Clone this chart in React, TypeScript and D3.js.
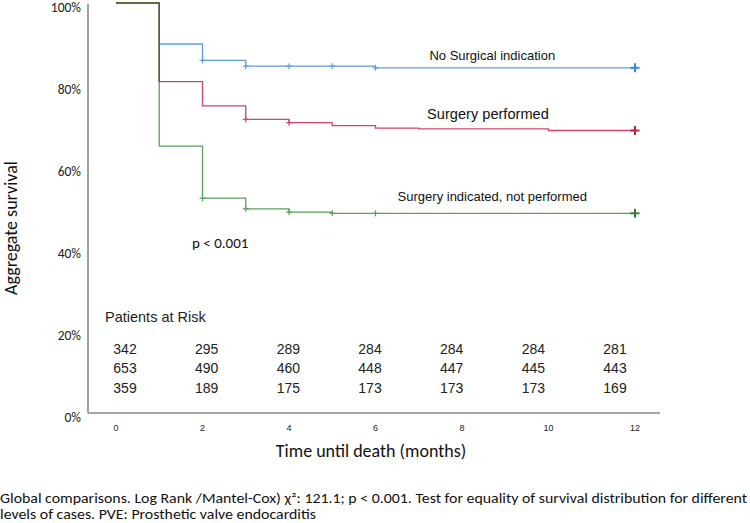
import React from "react";
import * as d3 from "d3";

// ---------- data ----------
const seriesNames = ["No Surgical indication", "Surgery performed", "Surgery indicated, not performed"];
// survival steps: [month, survival %]
const noIndicationSteps: [number, number][] = [[0, 100], [1, 90.0], [2, 86.0], [3, 84.6], [6, 84.2], [12, 84.2]];
const performedSteps: [number, number][] = [[0, 100], [1, 80.8], [2, 74.9], [3, 71.6], [4, 70.8], [5, 70.1], [6, 69.5], [7, 69.3], [10, 68.9], [12, 68.9]];
const notPerformedSteps: [number, number][] = [[0, 100], [1, 65.1], [2, 52.4], [3, 49.8], [4, 49.0], [5, 48.7], [12, 48.7]];
// censor marks (months)
const noIndicationCensor = [2, 3, 4, 5, 6, 12];
const performedCensor = [3, 4, 12];
const notPerformedCensor = [2, 3, 4, 5, 6, 12];

const xTicks = [0, 2, 4, 6, 8, 10, 12];
const yTicks = [0, 20, 40, 60, 80, 100];
const riskTimes = [0, 2, 4, 6, 8, 10, 12];
const riskNoIndication = [342, 295, 289, 284, 284, 284, 281];
const riskPerformed = [653, 490, 460, 448, 447, 445, 443];
const riskNotPerformed = [359, 189, 175, 173, 173, 173, 169];

const captionLines = [
  "Global comparisons. Log Rank /Mantel-Cox) χ²: 121.1; p < 0.001. Test for equality of survival distribution for different",
  "levels of cases. PVE: Prosthetic valve endocarditis",
];

// ---------- layout ----------
const W = 750, H = 523;
const colors = ["#5f9ddc", "#d2436a", "#57a257"];
const endColors = ["#3f83d4", "#c0203f", "#2f7f34"];
const sharedColor = "#5f5b36";
const sansCal = "Carlito, Lato, 'Open Sans', sans-serif";
const sansAr = "'Liberation Sans', Arial, sans-serif";
const captionWidths = [747, 316];

export default function App() {
  const x = d3.scaleLinear().domain([0, 12]).range([116, 635]);
  const y = d3.scaleLinear().domain([0, 100]).range([413, 3]);
  const riskX = d3.scaleLinear().domain([0, 12]).range([125, 615]);

  const line = d3.line<[number, number]>().x(d => x(d[0])).y(d => y(d[1])).curve(d3.curveStepAfter);

  const allSteps = [noIndicationSteps, performedSteps, notPerformedSteps];
  const allCensor = [noIndicationCensor, performedCensor, notPerformedCensor];

  const valueAt = (steps: [number, number][], t: number) => {
    let v = steps[0][1];
    for (const s of steps) if (s[0] <= t) v = s[1];
    return v;
  };

  // shared initial segment (all curves overlapping) until the first divergence
  const divergeT = noIndicationSteps[1][0];
  const nextVals = allSteps.map(s => valueAt(s, divergeT)).sort((a, b) => a - b);
  const sharedPath = d3.line<[number, number]>().x(d => x(d[0])).y(d => y(d[1]))([
    [0, 100], [divergeT, 100], [divergeT, nextVals[1]],
  ]);

  const labelPos = [
    { t: 8.7, v: 84.2, dy: -12, size: 13 },
    { t: 8.6, v: 68.9, dy: -17, size: 14.6 },
    { t: 8.7, v: 48.7, dy: -16.5, size: 13 },
  ];

  const riskRows = [riskNoIndication, riskPerformed, riskNotPerformed];
  const riskRowY = [349, 368.5, 388.5];

  return (
    <svg width={W} height={H} style={{ position: "absolute", left: 0, top: 0, background: "#fff" }}>
      {/* axes */}
      <line x1={88} x2={88} y1={4} y2={y(0)} stroke="#8a8a8a" strokeWidth={1.6} />
      <line x1={88} x2={660} y1={y(0)} y2={y(0)} stroke="#8a8a8a" strokeWidth={1.6} />
      {yTicks.map(v => (
        <text key={v} x={81} y={y(v) + 4} dy="0.35em" textAnchor="end" fontFamily={sansCal} fontSize={13.5} fill="#222">
          {v}%
        </text>
      ))}
      {xTicks.map(t => (
        <text key={t} x={x(t)} y={427.5} dy="0.35em" textAnchor="middle" fontFamily={sansAr} fontSize={9} fill="#222">
          {t}
        </text>
      ))}
      <text x={371} y={451} dy="0.35em" textAnchor="middle" fontFamily={sansCal} fontSize={18} fill="#111">
        Time until death (months)
      </text>
      <text transform={`translate(11,228) rotate(-90)`} textAnchor="middle" dy="0.35em" fontFamily={sansCal} fontSize={18} fill="#111">
        Aggregate survival
      </text>

      {/* curves */}
      {allSteps.map((s, i) => (
        <path key={i} d={line(s) || ""} fill="none" stroke={colors[i]} strokeWidth={1.3} />
      ))}
      <path d={sharedPath || ""} fill="none" stroke={sharedColor} strokeWidth={1.4} />
      {allCensor.map((cs, i) =>
        cs.map((t, j) => {
          const isEnd = j === cs.length - 1;
          const h = isEnd ? 4.5 : 3;
          const cx = x(t), cy = y(valueAt(allSteps[i], t));
          return (
            <g key={`${i}-${j}`} stroke={isEnd ? endColors[i] : colors[i]} strokeWidth={isEnd ? 2 : 1.2}>
              <line x1={cx - h} x2={cx + h} y1={cy} y2={cy} />
              <line x1={cx} x2={cx} y1={cy - h} y2={cy + h} />
            </g>
          );
        })
      )}
      {seriesNames.map((n, i) => (
        <text key={n} x={x(labelPos[i].t)} y={y(labelPos[i].v) + labelPos[i].dy} dy="0.35em" textAnchor="middle"
          fontFamily={sansAr} fontSize={labelPos[i].size} fill="#111">
          {n}
        </text>
      ))}
      <text x={192} y={243} dy="0.35em" fontFamily={sansCal} fontSize={15} fill="#111">p &lt; 0.001</text>

      {/* risk table */}
      <text x={105} y={317} dy="0.35em" fontFamily={sansAr} fontSize={14.5} fill="#222">Patients at Risk</text>
      {riskRows.map((row, r) =>
        row.map((n, k) => (
          <text key={`${r}-${k}`} x={riskX(riskTimes[k])} y={riskRowY[r]} dy="0.35em" textAnchor="middle"
            fontFamily={sansAr} fontSize={14} fill="#222">
            {n}
          </text>
        ))
      )}

      {/* caption */}
      {captionLines.map((c, i) => (
        <text key={i} x={0} y={498 + i * 16} dy="0.35em" fontFamily={sansCal} fontSize={13.5} fill="#111"
          textLength={captionWidths[i]} lengthAdjust="spacingAndGlyphs">
          {c}
        </text>
      ))}
    </svg>
  );
}
